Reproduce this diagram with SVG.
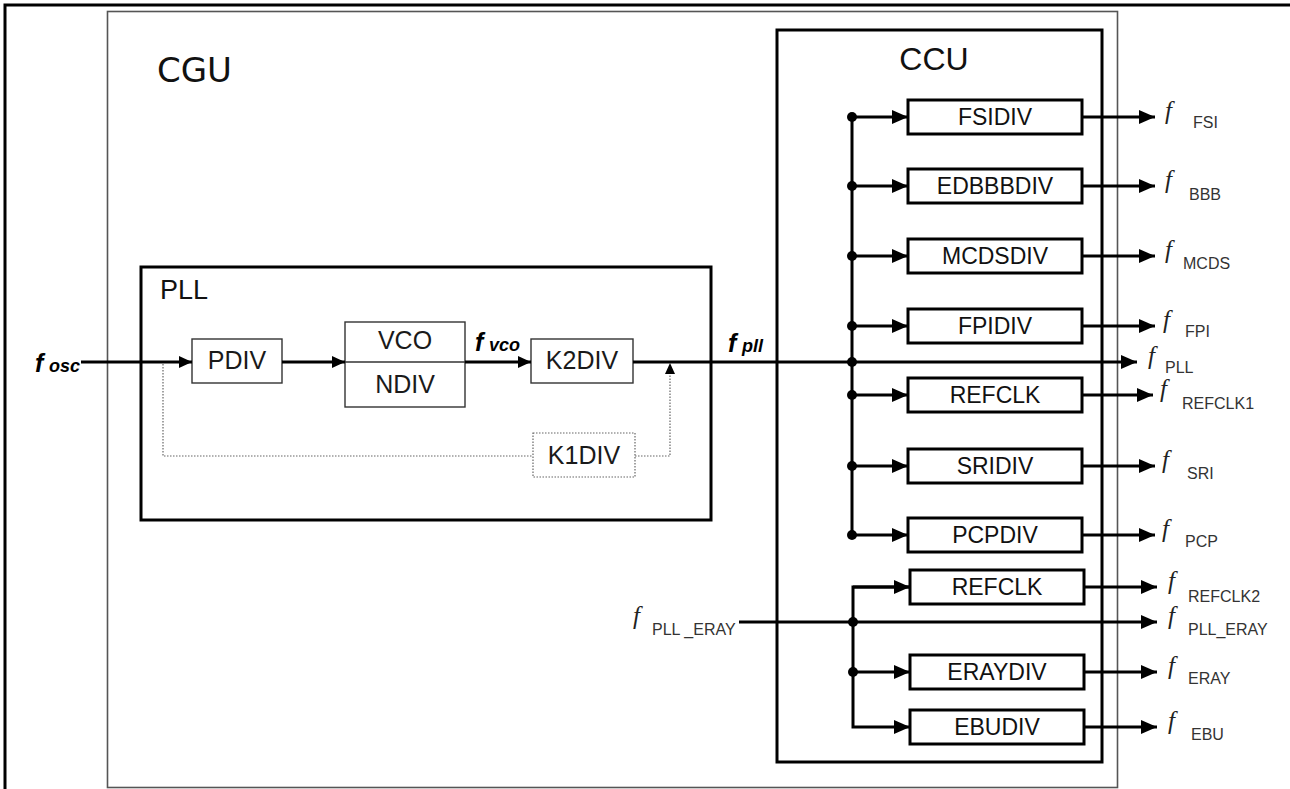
<svg xmlns="http://www.w3.org/2000/svg" width="1290" height="789" viewBox="0 0 1290 789">
  <style>
    .frame { fill: none; stroke: #000; stroke-width: 3; }
    .cgu { fill: none; stroke: #555; stroke-width: 1.6; }
    .thickbox { fill: #fff; stroke: #000; stroke-width: 3; }
    .thinbox { fill: #fff; stroke: #333; stroke-width: 1.4; }
    .dotbox { fill: #fff; stroke: #666; stroke-width: 1.2; stroke-dasharray: 1.5 1.5; }
    .wire { fill: none; stroke: #000; stroke-width: 3; }
    .dotwire { fill: none; stroke: #666; stroke-width: 1.2; stroke-dasharray: 1.5 1.5; }
    .title { font-family: "Liberation Sans", Arial, sans-serif; fill: #111; }
    .blk { font-family: "Liberation Sans", Arial, sans-serif; font-size: 23px; fill: #111; text-anchor: middle; }
    .pblk { font-family: "Liberation Sans", Arial, sans-serif; font-size: 25px; fill: #1a1a1a; text-anchor: middle; }
    .fs { font-family: "Liberation Serif", "Times New Roman", serif; font-style: italic; font-size: 25px; fill: #222; }
    .sub { font-family: "Liberation Sans", Arial, sans-serif; font-size: 16px; fill: #333; }
    .bf { font-family: "Liberation Sans", Arial, sans-serif; font-style: italic; font-weight: bold; fill: #000; }
  </style>
  <defs>
    <marker id="arr" markerUnits="userSpaceOnUse" markerWidth="16" markerHeight="14" refX="16" refY="7" orient="auto">
      <path d="M0,0 L16,7 L0,14 z" fill="#000"/>
    </marker>
    <marker id="arrS" markerUnits="userSpaceOnUse" markerWidth="13" markerHeight="12" refX="13" refY="6" orient="auto">
      <path d="M0,0 L13,6 L0,12 z" fill="#000"/>
    </marker>
  </defs>

  <rect width="1290" height="789" fill="#fff"/>

  <!-- outer frame -->
  <path class="frame" d="M5,789 V5 H1290"/>

  <!-- CGU container -->
  <g id="cgu">
    <rect class="cgu" x="107.5" y="11.5" width="1010" height="776"/>
    <text x="157" y="82" font-family="DejaVu Sans, Verdana, sans-serif" font-size="34" fill="#111">CGU</text>
  </g>

  <!-- PLL container -->
  <g id="pll">
    <rect class="frame" x="141" y="267" width="570" height="253"/>
    <text class="title" x="160" y="299" font-size="27">PLL</text>
  </g>

  <!-- CCU container -->
  <g id="ccu">
    <rect class="frame" x="777" y="30" width="325" height="732"/>
    <text class="title" x="934" y="70" font-size="32" text-anchor="middle">CCU</text>
  </g>

  <!-- PLL blocks -->
  <g id="pdiv">
    <rect class="thinbox" x="192" y="339" width="90" height="44"/>
    <text class="pblk" x="237" y="369">PDIV</text>
  </g>
  <g id="vco-ndiv">
    <rect class="thinbox" x="345" y="322" width="120" height="85"/>
    <line x1="345" y1="362" x2="465" y2="362" stroke="#333" stroke-width="1.4"/>
    <text class="pblk" x="405" y="349" font-size="21">VCO</text>
    <text class="pblk" x="405" y="393">NDIV</text>
  </g>
  <g id="k2div">
    <rect class="thinbox" x="531" y="339" width="102" height="44"/>
    <text class="pblk" x="582" y="369">K2DIV</text>
  </g>
  <g id="k1div">
    <rect class="dotbox" x="533" y="433" width="102" height="44"/>
    <text class="pblk" x="584" y="464" fill="#222">K1DIV</text>
  </g>

  <!-- CCU divider blocks, first bus -->
  <g id="fsidiv"><rect class="thickbox" x="908" y="100" width="174" height="34"/><text class="blk" x="995" y="125">FSIDIV</text></g>
  <g id="edbbbdiv"><rect class="thickbox" x="908" y="169" width="174" height="34"/><text class="blk" x="995" y="194">EDBBBDIV</text></g>
  <g id="mcdsdiv"><rect class="thickbox" x="908" y="239" width="174" height="34"/><text class="blk" x="995" y="264">MCDSDIV</text></g>
  <g id="fpidiv"><rect class="thickbox" x="908" y="309" width="174" height="34"/><text class="blk" x="995" y="334">FPIDIV</text></g>
  <g id="refclk1"><rect class="thickbox" x="908" y="378" width="174" height="34"/><text class="blk" x="995" y="403">REFCLK</text></g>
  <g id="sridiv"><rect class="thickbox" x="908" y="449" width="174" height="34"/><text class="blk" x="995" y="474">SRIDIV</text></g>
  <g id="pcpdiv"><rect class="thickbox" x="908" y="518" width="174" height="34"/><text class="blk" x="995" y="543">PCPDIV</text></g>

  <!-- CCU divider blocks, ERAY bus -->
  <g id="refclk2"><rect class="thickbox" x="910" y="570" width="174" height="34"/><text class="blk" x="997" y="595">REFCLK</text></g>
  <g id="eraydiv"><rect class="thickbox" x="910" y="655" width="174" height="34"/><text class="blk" x="997" y="680">ERAYDIV</text></g>
  <g id="ebudiv"><rect class="thickbox" x="910" y="710" width="174" height="34"/><text class="blk" x="997" y="735">EBUDIV</text></g>

  <!-- connectors -->
  <g id="connectors">
    <!-- PLL chain -->
    <line class="wire" x1="81" y1="362" x2="192" y2="362" marker-end="url(#arrS)"/>
    <line class="wire" x1="282" y1="362" x2="345" y2="362" marker-end="url(#arrS)"/>
    <line class="wire" x1="465" y1="362" x2="531" y2="362" marker-end="url(#arrS)"/>
    <!-- K1DIV bypass path -->
    <path class="dotwire" d="M163,364 V456 H533"/>
    <path class="dotwire" d="M635,456 H670 V372"/>
    <path d="M665,374 L670,363 L675,374 z" fill="#000"/>
    <!-- f_pll main line into CCU, out as f_PLL -->
    <line class="wire" x1="633" y1="362" x2="1137" y2="362" marker-end="url(#arr)"/>

    <!-- first distribution bus -->
    <line class="wire" x1="852" y1="117" x2="852" y2="535"/>
    <line class="wire" x1="852" y1="117" x2="908" y2="117" marker-end="url(#arr)"/>
    <line class="wire" x1="852" y1="186" x2="908" y2="186" marker-end="url(#arr)"/>
    <line class="wire" x1="852" y1="256" x2="908" y2="256" marker-end="url(#arr)"/>
    <line class="wire" x1="852" y1="326" x2="908" y2="326" marker-end="url(#arr)"/>
    <line class="wire" x1="852" y1="395" x2="908" y2="395" marker-end="url(#arr)"/>
    <line class="wire" x1="852" y1="466" x2="908" y2="466" marker-end="url(#arr)"/>
    <line class="wire" x1="852" y1="535" x2="908" y2="535" marker-end="url(#arr)"/>
    <g fill="#000">
      <circle cx="852" cy="117" r="5"/>
      <circle cx="852" cy="186" r="5"/>
      <circle cx="852" cy="256" r="5"/>
      <circle cx="852" cy="326" r="5"/>
      <circle cx="852" cy="362" r="5"/>
      <circle cx="852" cy="395" r="5"/>
      <circle cx="852" cy="466" r="5"/>
      <circle cx="852" cy="535" r="5"/>
    </g>
    <!-- first bus outputs -->
    <line class="wire" x1="1082" y1="117" x2="1155" y2="117" marker-end="url(#arr)"/>
    <line class="wire" x1="1082" y1="186" x2="1155" y2="186" marker-end="url(#arr)"/>
    <line class="wire" x1="1082" y1="256" x2="1155" y2="256" marker-end="url(#arr)"/>
    <line class="wire" x1="1082" y1="326" x2="1155" y2="326" marker-end="url(#arr)"/>
    <line class="wire" x1="1082" y1="395" x2="1153" y2="395" marker-end="url(#arr)"/>
    <line class="wire" x1="1082" y1="466" x2="1155" y2="466" marker-end="url(#arr)"/>
    <line class="wire" x1="1082" y1="535" x2="1155" y2="535" marker-end="url(#arr)"/>

    <!-- ERAY bus -->
    <line class="wire" x1="739" y1="622" x2="1157" y2="622" marker-end="url(#arr)"/>
    <path class="wire" d="M910,587 H853 V727 H910" marker-end="url(#arr)"/>
    <line class="wire" x1="853" y1="587" x2="910" y2="587" marker-end="url(#arr)"/>
    <line class="wire" x1="853" y1="672" x2="910" y2="672" marker-end="url(#arr)"/>
    <g fill="#000">
      <circle cx="853" cy="622" r="5"/>
      <circle cx="853" cy="672" r="5"/>
    </g>
    <line class="wire" x1="1084" y1="587" x2="1157" y2="587" marker-end="url(#arr)"/>
    <line class="wire" x1="1084" y1="672" x2="1157" y2="672" marker-end="url(#arr)"/>
    <line class="wire" x1="1084" y1="727" x2="1157" y2="727" marker-end="url(#arr)"/>
  </g>

  <!-- signal labels -->
  <g id="labels">
    <text class="bf" x="35" y="372" font-size="25">f</text>
    <text class="bf" x="49" y="372" font-size="18">osc</text>
    <text class="bf" x="475" y="351" font-size="25">f</text>
    <text class="bf" x="489" y="351" font-size="18">vco</text>
    <text class="bf" x="728" y="352" font-size="25">f</text>
    <text class="bf" x="742" y="352" font-size="18">pll</text>

    <text class="fs" x="1165" y="119">f</text><text class="sub" x="1193" y="128">FSI</text>
    <text class="fs" x="1165" y="188">f</text><text class="sub" x="1189" y="200">BBB</text>
    <text class="fs" x="1165" y="258">f</text><text class="sub" x="1183" y="269">MCDS</text>
    <text class="fs" x="1163" y="328">f</text><text class="sub" x="1185" y="337">FPI</text>
    <text class="fs" x="1148" y="364">f</text><text class="sub" x="1165" y="373">PLL</text>
    <text class="fs" x="1160" y="397">f</text><text class="sub" x="1182" y="409">REFCLK1</text>
    <text class="fs" x="1162" y="468">f</text><text class="sub" x="1187" y="479">SRI</text>
    <text class="fs" x="1162" y="537">f</text><text class="sub" x="1185" y="547">PCP</text>
    <text class="fs" x="1168" y="589">f</text><text class="sub" x="1188" y="602">REFCLK2</text>
    <text class="fs" x="1168" y="624">f</text><text class="sub" x="1188" y="635">PLL_ERAY</text>
    <text class="fs" x="1168" y="674">f</text><text class="sub" x="1188" y="684">ERAY</text>
    <text class="fs" x="1168" y="729">f</text><text class="sub" x="1191" y="740">EBU</text>

    <text class="fs" x="633" y="624">f</text><text class="sub" x="652" y="635">PLL _ERAY</text>
  </g>
</svg>
